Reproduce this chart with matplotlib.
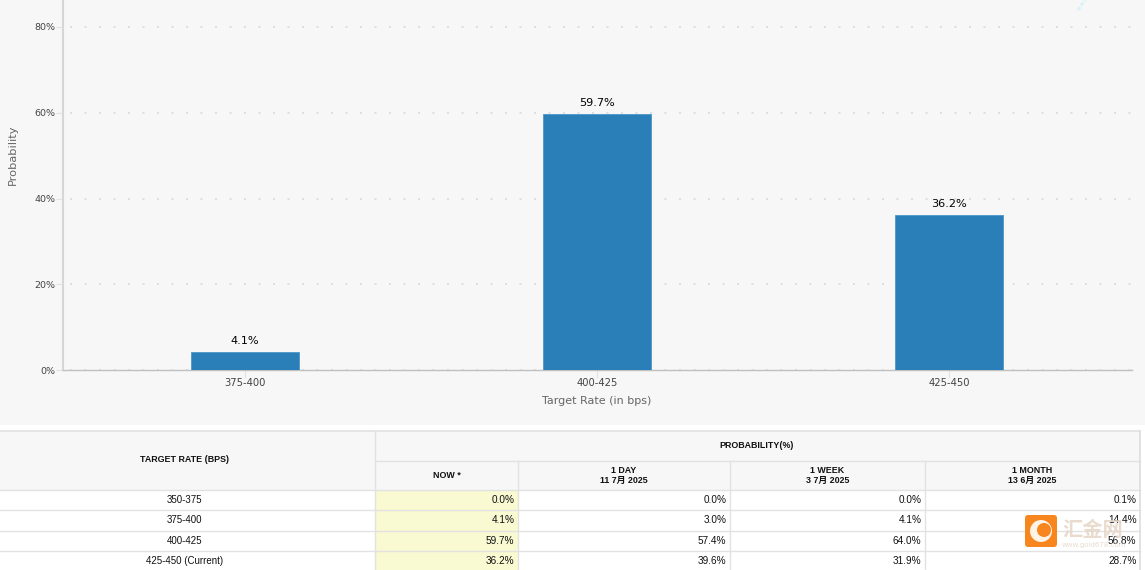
import matplotlib
matplotlib.use('Agg')
import matplotlib.pyplot as plt
from matplotlib.patches import Rectangle, FancyBboxPatch, Circle

W, H = 1145, 570

# chart data
bar_rates = ['375-400', '400-425', '425-450']
bar_probs = [4.1, 59.7, 36.2]
y_ticks = [0, 20, 40, 60, 80]

# table data
table_rates = ['350-375', '375-400', '400-425', '425-450 (Current)']
now = ['0.0%', '4.1%', '59.7%', '36.2%']
one_day = ['0.0%', '3.0%', '57.4%', '39.6%']
one_week = ['0.0%', '4.1%', '64.0%', '31.9%']
one_month = ['0.1%', '14.4%', '56.8%', '28.7%']
col_heads = ['NOW *', '1 DAY\n11 7月 2025', '1 WEEK\n3 7月 2025', '1 MONTH\n13 6月 2025']

fig = plt.figure(figsize=(W / 100, H / 100), dpi=100, facecolor='white')

# page overlay in pixel coords, for background, table and watermark
page = fig.add_axes([0, 0, 1, 1], zorder=0)
page.set_xlim(0, W)
page.set_ylim(H, 0)
page.axis('off')
page.add_patch(Rectangle((0, 0), W, 425, color='#f7f7f7', lw=0))

# plot area
x0, x1, y_top, y_base = 63, 1132, 0, 370
ax = fig.add_axes([x0 / W, 1 - y_base / H, (x1 - x0) / W, (y_base - y_top) / H], zorder=1)
ax.patch.set_visible(False)
ax.set_xlim((x0 - 245) / 352, (x1 - 245) / 352)
ax.set_ylim(0, 370 / (343 / 80))

ax.bar(range(len(bar_probs)), bar_probs, width=0.307, color='#2a7fb8', edgecolor='#4c96c8', linewidth=0.6, zorder=3)
for i, p in enumerate(bar_probs):
    ax.annotate(f'{p}%', (i, p), xytext=(0, 6), textcoords='offset pixels', ha='center', va='bottom',
                fontsize=8.1, color='black', zorder=4)

ax.set_yticks(y_ticks)
ax.set_yticklabels([f'{t}%' for t in y_ticks], fontsize=6.8, color='#444444')
ax.set_xticks(range(len(bar_rates)))
ax.set_xticklabels(bar_rates, fontsize=7.2, color='#444444')
ax.tick_params(axis='y', length=5, width=0.8, color='#e2e2e2', pad=0.5)
ax.tick_params(axis='x', length=6, width=0.8, color='#e2e2e2', pad=0)
ax.grid(axis='y', color='#dadada', linewidth=1.2, linestyle=(4.5, (1.2, 7.5)), zorder=1)
ax.set_axisbelow(True)

for s in ['top', 'right']:
    ax.spines[s].set_visible(False)
ax.spines['left'].set_color('#d6d6d6')
ax.spines['left'].set_linewidth(1.5)
ax.spines['bottom'].set_color('#c0c0c0')
ax.spines['bottom'].set_linewidth(1)

page.text(13, 155, 'Probability', rotation=90, ha='center', va='center', fontsize=8.2, color='#666666')
page.text(597, 400.5, 'Target Rate (in bps)', ha='center', va='center', fontsize=8.0, color='#666666')

# stray highlight at top right of the screenshot
page.plot([1078, 1085], [10, 0], color='#d8f3f8', lw=2.2, ls=(0, (1.2, 0.6)))

# table
cols = [0, 375, 518, 730, 925, 1140]
row_tops = [490, 510, 530.5, 551, 571]
line = '#e2e2e2'
tfont = ['Liberation Sans', 'Noto Sans CJK SC']

page.add_patch(Rectangle((0, 431), 1140, 59, color='#f7f7f7', lw=0))
page.add_patch(Rectangle((375, 490), 143, 80, color='#f9f9d2', lw=0))

page.plot([0, 1140], [431, 431], color=line, lw=1.2)
page.plot([375, 1140], [461, 461], color=line, lw=1)
for y in row_tops[:-1]:
    page.plot([0, 1140], [y, y], color=line, lw=1)
page.plot([375, 375], [431, 570], color=line, lw=1)
for x in cols[2:-1]:
    page.plot([x, x], [461, 570], color=line, lw=1)
page.plot([1140, 1140], [431, 570], color='#dddddd', lw=1.2)

page.text(185, 460, 'TARGET RATE (BPS)', ha='center', va='center', fontsize=6.4, fontweight='bold', family=tfont, color='#111111')
page.text(757, 446, 'PROBABILITY(%)', ha='center', va='center', fontsize=6.4, fontweight='bold', family=tfont, color='#111111')
for c, head in enumerate(col_heads):
    page.text((cols[c + 1] + cols[c + 2]) / 2, 475.5, head, ha='center', va='center', fontsize=6.4,
              fontweight='bold', family=tfont, color='#111111', linespacing=1.15)

for r, rate in enumerate(table_rates):
    y = (row_tops[r] + row_tops[r + 1]) / 2
    page.text(184.5, y, rate, ha='center', va='center', fontsize=7.0, family=tfont, color='#111111', clip_on=True)
    for c, vals in enumerate([now, one_day, one_week, one_month]):
        page.text(cols[c + 2] - 3.5, y, vals[r], ha='right', va='center', fontsize=7.2, family=tfont, color='#111111', clip_on=True)

# watermark
page.add_patch(FancyBboxPatch((1027, 517), 28, 28, boxstyle='round,pad=2,rounding_size=3', color='#f7861e', lw=0, zorder=5))
page.add_patch(Circle((1041, 531), 11, color='#fff3e6', lw=0, zorder=6))
page.add_patch(Circle((1044, 530), 7, color='#f7861e', lw=0, zorder=7))
page.text(1093, 529, '汇金网', ha='center', va='center', fontsize=14.6, fontweight='bold', family='Noto Sans CJK SC',
          color='#e6d6c6', alpha=0.85, zorder=6)
page.text(1094, 545, 'www.gold678.com', ha='center', va='center', fontsize=5, color='#e6d6c6', alpha=0.85, zorder=6)

fig.savefig('out.png', dpi=100, facecolor='white')
